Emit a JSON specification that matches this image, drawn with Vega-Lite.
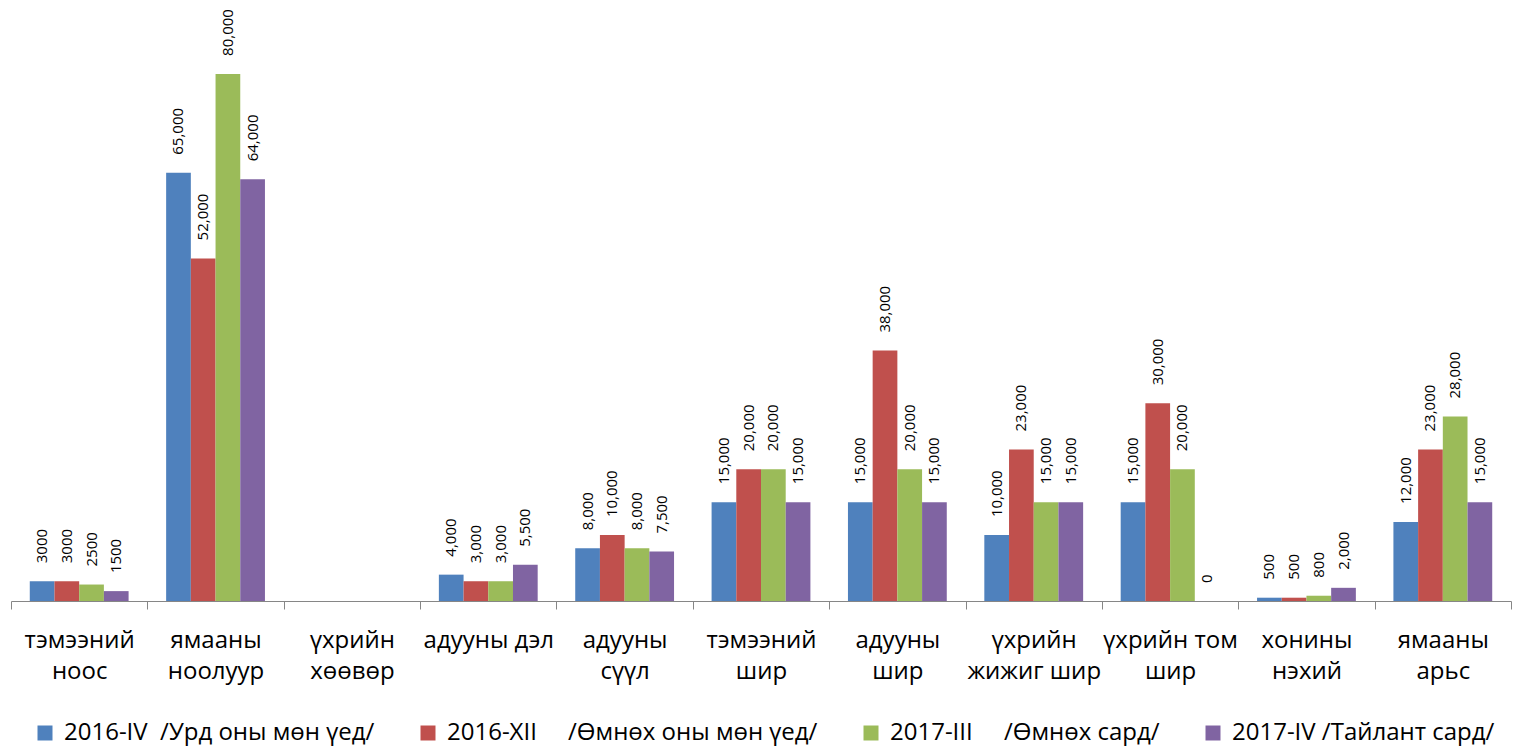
{
  "$schema": "https://vega.github.io/schema/vega-lite/v6.json",
  "width": 1500,
  "height": 593,
  "autosize": {"type": "none"},
  "padding": {"left": 11, "top": 8, "right": 4, "bottom": 146},
  "background": "white",
  "config": {"view": {"stroke": null}, "font": "Open Sans"},
  "data": {
    "values": [
      {"category": "тэмээний\nноос", "series": "2016-IV\u00a0\u00a0/Урд оны мөн үед/", "value": 3000, "label": "3000"},
      {"category": "тэмээний\nноос", "series": "2016-XII\u00a0\u00a0\u00a0\u00a0\u00a0/Өмнөх оны мөн үед/", "value": 3000, "label": "3000"},
      {"category": "тэмээний\nноос", "series": "2017-III\u00a0\u00a0\u00a0\u00a0\u00a0/Өмнөх сард/", "value": 2500, "label": "2500"},
      {"category": "тэмээний\nноос", "series": "2017-IV /Тайлант сард/", "value": 1500, "label": "1500"},
      {"category": "ямааны\nноолуур", "series": "2016-IV\u00a0\u00a0/Урд оны мөн үед/", "value": 65000, "label": "65,000"},
      {"category": "ямааны\nноолуур", "series": "2016-XII\u00a0\u00a0\u00a0\u00a0\u00a0/Өмнөх оны мөн үед/", "value": 52000, "label": "52,000"},
      {"category": "ямааны\nноолуур", "series": "2017-III\u00a0\u00a0\u00a0\u00a0\u00a0/Өмнөх сард/", "value": 80000, "label": "80,000"},
      {"category": "ямааны\nноолуур", "series": "2017-IV /Тайлант сард/", "value": 64000, "label": "64,000"},
      {"category": "адууны дэл", "series": "2016-IV\u00a0\u00a0/Урд оны мөн үед/", "value": 4000, "label": "4,000"},
      {"category": "адууны дэл", "series": "2016-XII\u00a0\u00a0\u00a0\u00a0\u00a0/Өмнөх оны мөн үед/", "value": 3000, "label": "3,000"},
      {"category": "адууны дэл", "series": "2017-III\u00a0\u00a0\u00a0\u00a0\u00a0/Өмнөх сард/", "value": 3000, "label": "3,000"},
      {"category": "адууны дэл", "series": "2017-IV /Тайлант сард/", "value": 5500, "label": "5,500"},
      {"category": "адууны\nсүүл", "series": "2016-IV\u00a0\u00a0/Урд оны мөн үед/", "value": 8000, "label": "8,000"},
      {"category": "адууны\nсүүл", "series": "2016-XII\u00a0\u00a0\u00a0\u00a0\u00a0/Өмнөх оны мөн үед/", "value": 10000, "label": "10,000"},
      {"category": "адууны\nсүүл", "series": "2017-III\u00a0\u00a0\u00a0\u00a0\u00a0/Өмнөх сард/", "value": 8000, "label": "8,000"},
      {"category": "адууны\nсүүл", "series": "2017-IV /Тайлант сард/", "value": 7500, "label": "7,500"},
      {"category": "тэмээний\nшир", "series": "2016-IV\u00a0\u00a0/Урд оны мөн үед/", "value": 15000, "label": "15,000"},
      {"category": "тэмээний\nшир", "series": "2016-XII\u00a0\u00a0\u00a0\u00a0\u00a0/Өмнөх оны мөн үед/", "value": 20000, "label": "20,000"},
      {"category": "тэмээний\nшир", "series": "2017-III\u00a0\u00a0\u00a0\u00a0\u00a0/Өмнөх сард/", "value": 20000, "label": "20,000"},
      {"category": "тэмээний\nшир", "series": "2017-IV /Тайлант сард/", "value": 15000, "label": "15,000"},
      {"category": "адууны\nшир", "series": "2016-IV\u00a0\u00a0/Урд оны мөн үед/", "value": 15000, "label": "15,000"},
      {"category": "адууны\nшир", "series": "2016-XII\u00a0\u00a0\u00a0\u00a0\u00a0/Өмнөх оны мөн үед/", "value": 38000, "label": "38,000"},
      {"category": "адууны\nшир", "series": "2017-III\u00a0\u00a0\u00a0\u00a0\u00a0/Өмнөх сард/", "value": 20000, "label": "20,000"},
      {"category": "адууны\nшир", "series": "2017-IV /Тайлант сард/", "value": 15000, "label": "15,000"},
      {"category": "үхрийн\nжижиг шир", "series": "2016-IV\u00a0\u00a0/Урд оны мөн үед/", "value": 10000, "label": "10,000"},
      {"category": "үхрийн\nжижиг шир", "series": "2016-XII\u00a0\u00a0\u00a0\u00a0\u00a0/Өмнөх оны мөн үед/", "value": 23000, "label": "23,000"},
      {"category": "үхрийн\nжижиг шир", "series": "2017-III\u00a0\u00a0\u00a0\u00a0\u00a0/Өмнөх сард/", "value": 15000, "label": "15,000"},
      {"category": "үхрийн\nжижиг шир", "series": "2017-IV /Тайлант сард/", "value": 15000, "label": "15,000"},
      {"category": "үхрийн том\nшир", "series": "2016-IV\u00a0\u00a0/Урд оны мөн үед/", "value": 15000, "label": "15,000"},
      {"category": "үхрийн том\nшир", "series": "2016-XII\u00a0\u00a0\u00a0\u00a0\u00a0/Өмнөх оны мөн үед/", "value": 30000, "label": "30,000"},
      {"category": "үхрийн том\nшир", "series": "2017-III\u00a0\u00a0\u00a0\u00a0\u00a0/Өмнөх сард/", "value": 20000, "label": "20,000"},
      {"category": "үхрийн том\nшир", "series": "2017-IV /Тайлант сард/", "value": 0, "label": "0"},
      {"category": "хонины\nнэхий", "series": "2016-IV\u00a0\u00a0/Урд оны мөн үед/", "value": 500, "label": "500"},
      {"category": "хонины\nнэхий", "series": "2016-XII\u00a0\u00a0\u00a0\u00a0\u00a0/Өмнөх оны мөн үед/", "value": 500, "label": "500"},
      {"category": "хонины\nнэхий", "series": "2017-III\u00a0\u00a0\u00a0\u00a0\u00a0/Өмнөх сард/", "value": 800, "label": "800"},
      {"category": "хонины\nнэхий", "series": "2017-IV /Тайлант сард/", "value": 2000, "label": "2,000"},
      {"category": "ямааны\nарьс", "series": "2016-IV\u00a0\u00a0/Урд оны мөн үед/", "value": 12000, "label": "12,000"},
      {"category": "ямааны\nарьс", "series": "2016-XII\u00a0\u00a0\u00a0\u00a0\u00a0/Өмнөх оны мөн үед/", "value": 23000, "label": "23,000"},
      {"category": "ямааны\nарьс", "series": "2017-III\u00a0\u00a0\u00a0\u00a0\u00a0/Өмнөх сард/", "value": 28000, "label": "28,000"},
      {"category": "ямааны\nарьс", "series": "2017-IV /Тайлант сард/", "value": 15000, "label": "15,000"}
    ]
  },
  "encoding": {
    "x": {
      "field": "category",
      "type": "nominal",
      "sort": null,
      "scale": {
        "domain": ["тэмээний\nноос", "ямааны\nноолуур", "үхрийн\nхөөвөр", "адууны дэл", "адууны\nсүүл", "тэмээний\nшир", "адууны\nшир", "үхрийн\nжижиг шир", "үхрийн том\nшир", "хонины\nнэхий", "ямааны\nарьс"],
        "paddingInner": 0,
        "paddingOuter": 0
      },
      "axis": {
        "title": null,
        "labelAngle": 0,
        "labelExpr": "isValid(datum.value) ? split(datum.value, '\\n') : ''",
        "labelFontSize": 24,
        "labelLineHeight": 31,
        "labelColor": "black",
        "labelPadding": 19,
        "labelLimit": 300,
        "tickBand": "extent",
        "tickSize": 8,
        "domainColor": "#868686",
        "tickColor": "#868686",
        "grid": false
      }
    },
    "xOffset": {
      "field": "series",
      "type": "nominal",
      "sort": null,
      "scale": {
        "domain": ["2016-IV\u00a0\u00a0/Урд оны мөн үед/", "2016-XII\u00a0\u00a0\u00a0\u00a0\u00a0/Өмнөх оны мөн үед/", "2017-III\u00a0\u00a0\u00a0\u00a0\u00a0/Өмнөх сард/", "2017-IV /Тайлант сард/"],
        "paddingInner": 0,
        "paddingOuter": 0.76
      }
    },
    "y": {
      "field": "value",
      "type": "quantitative",
      "scale": {"domain": [0, 90000]},
      "axis": null
    }
  },
  "layer": [
    {
      "mark": {"type": "bar"},
      "encoding": {
        "color": {
          "field": "series",
          "type": "nominal",
          "sort": null,
          "scale": {
            "domain": ["2016-IV\u00a0\u00a0/Урд оны мөн үед/", "2016-XII\u00a0\u00a0\u00a0\u00a0\u00a0/Өмнөх оны мөн үед/", "2017-III\u00a0\u00a0\u00a0\u00a0\u00a0/Өмнөх сард/", "2017-IV /Тайлант сард/"],
            "range": ["#4F81BD", "#C0504D", "#9BBB59", "#8064A2"]
          },
          "legend": {
            "title": null,
            "orient": "none",
            "legendX": 22,
            "legendY": 713,
            "direction": "horizontal",
            "symbolType": "square",
            "symbolSize": 225,
            "symbolStrokeWidth": 0,
            "labelFontSize": 24,
            "labelColor": "black",
            "labelOffset": 7,
            "labelLimit": 600,
            "columnPadding": 41
          }
        }
      }
    },
    {
      "mark": {"type": "text", "angle": 270, "align": "left", "baseline": "middle", "dx": 18, "fontSize": 15, "color": "black"},
      "encoding": {"text": {"field": "label"}}
    }
  ]
}
